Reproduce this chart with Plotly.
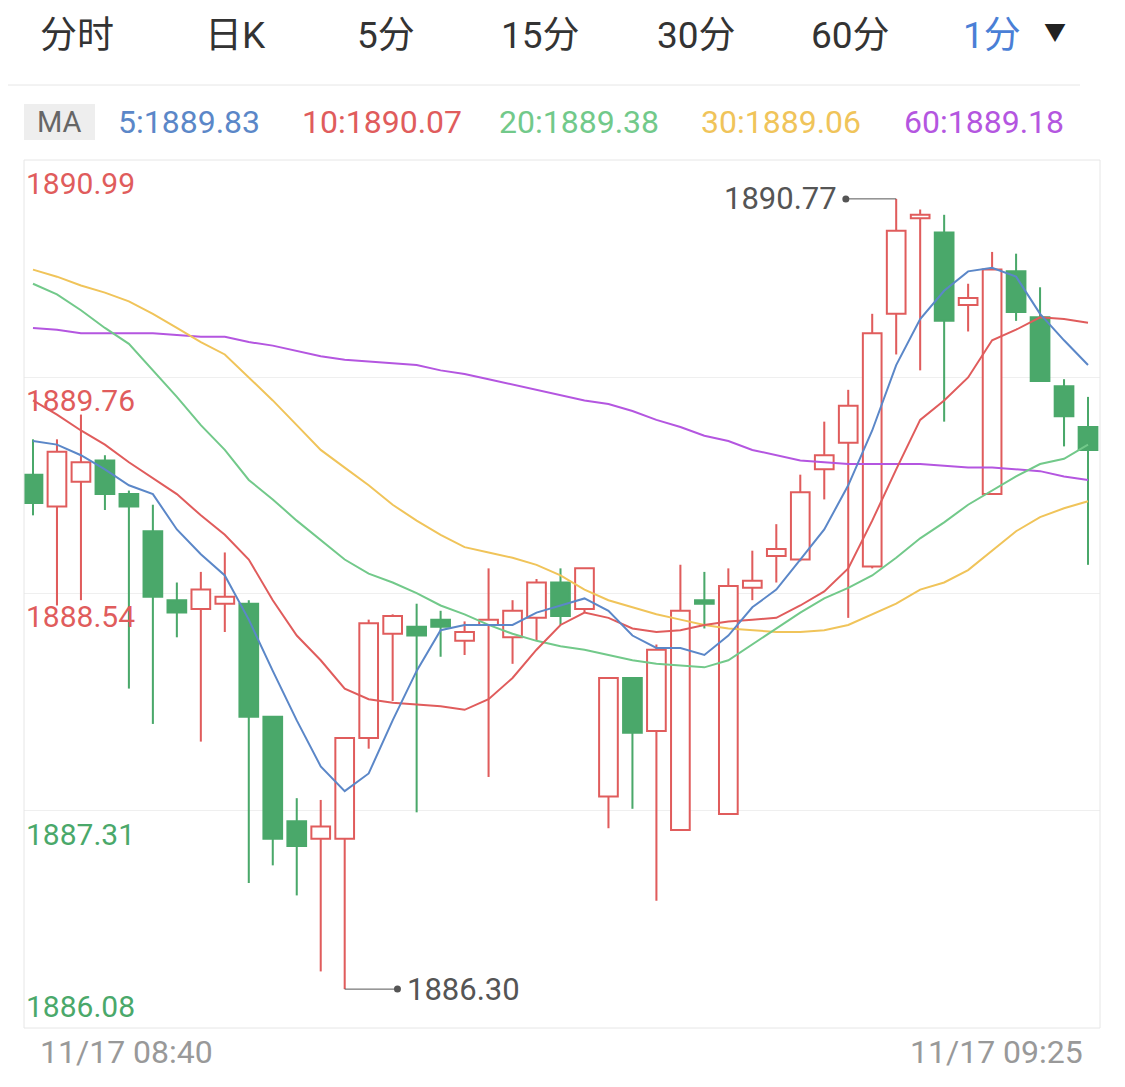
import plotly.graph_objects as go

opens  = [1889.21,1889.03,1889.17,1889.29,1889.10,1888.89,1888.50,1888.45,1888.48,1888.48,1887.84,1887.25,1887.15,1887.15,1887.72,1888.31,1888.35,1888.39,1888.27,1888.36,1888.29,1888.40,1888.60,1888.45,1887.39,1888.06,1887.76,1887.20,1888.50,1887.29,1888.57,1888.75,1888.73,1889.24,1889.39,1888.69,1890.12,1890.66,1890.58,1890.17,1889.10,1890.36,1890.10,1889.71,1889.48]
highs  = [1889.41,1889.41,1889.55,1889.32,1889.12,1889.04,1888.60,1888.66,1888.77,1888.50,1887.84,1887.38,1887.37,1887.72,1888.39,1888.42,1888.48,1888.44,1888.38,1888.68,1888.50,1888.62,1888.68,1888.68,1888.06,1888.06,1888.25,1888.70,1888.66,1888.68,1888.78,1888.93,1889.21,1889.51,1889.69,1890.12,1890.77,1890.71,1890.68,1890.29,1890.47,1890.46,1890.27,1889.75,1889.65]
lows   = [1888.98,1888.47,1888.50,1889.01,1888.00,1887.80,1888.29,1887.70,1888.32,1886.90,1887.00,1886.83,1886.40,1886.30,1887.66,1887.93,1887.30,1888.18,1888.19,1887.50,1888.14,1888.27,1888.36,1888.43,1887.21,1887.32,1886.80,1887.20,1888.34,1887.29,1888.50,1888.60,1888.72,1889.07,1888.40,1888.68,1889.89,1889.80,1889.51,1890.02,1889.10,1890.08,1889.74,1889.37,1888.70]
closes = [1889.05,1889.34,1889.28,1889.10,1889.03,1888.52,1888.43,1888.56,1888.52,1887.84,1887.15,1887.11,1887.22,1887.72,1888.37,1888.41,1888.30,1888.35,1888.32,1888.39,1888.44,1888.60,1888.41,1888.68,1888.06,1887.75,1888.22,1888.44,1888.48,1888.58,1888.61,1888.79,1889.11,1889.32,1889.60,1890.01,1890.59,1890.68,1890.08,1890.21,1890.37,1890.13,1889.74,1889.54,1889.35]

ma5  = [1889.40,1889.38,1889.32,1889.24,1889.15,1889.10,1888.90,1888.76,1888.64,1888.39,1888.10,1887.82,1887.56,1887.42,1887.52,1887.82,1888.10,1888.33,1888.36,1888.36,1888.36,1888.43,1888.47,1888.51,1888.44,1888.30,1888.23,1888.23,1888.19,1888.30,1888.46,1888.56,1888.73,1888.90,1889.15,1889.46,1889.83,1890.09,1890.25,1890.36,1890.38,1890.33,1890.12,1889.97,1889.83]
ma10 = [1889.63,1889.55,1889.46,1889.38,1889.28,1889.19,1889.10,1888.98,1888.87,1888.73,1888.50,1888.30,1888.16,1888.00,1887.94,1887.92,1887.91,1887.90,1887.88,1887.94,1888.06,1888.22,1888.36,1888.43,1888.40,1888.34,1888.32,1888.33,1888.36,1888.38,1888.39,1888.40,1888.47,1888.55,1888.68,1888.95,1889.24,1889.52,1889.63,1889.76,1889.97,1890.03,1890.10,1890.09,1890.07]
ma20 = [1890.29,1890.23,1890.14,1890.04,1889.95,1889.80,1889.65,1889.49,1889.35,1889.18,1889.07,1888.95,1888.84,1888.73,1888.65,1888.60,1888.54,1888.47,1888.42,1888.36,1888.31,1888.27,1888.24,1888.22,1888.19,1888.16,1888.14,1888.13,1888.12,1888.16,1888.25,1888.34,1888.43,1888.51,1888.57,1888.64,1888.74,1888.85,1888.94,1889.04,1889.12,1889.20,1889.27,1889.30,1889.38]
ma30 = [1890.37,1890.33,1890.28,1890.24,1890.19,1890.12,1890.04,1889.96,1889.89,1889.76,1889.63,1889.49,1889.35,1889.25,1889.15,1889.04,1888.95,1888.87,1888.80,1888.77,1888.74,1888.70,1888.64,1888.56,1888.50,1888.46,1888.42,1888.39,1888.36,1888.34,1888.33,1888.32,1888.32,1888.33,1888.36,1888.42,1888.48,1888.56,1888.60,1888.67,1888.78,1888.89,1888.97,1889.02,1889.06]
ma60 = [1890.04,1890.03,1890.01,1890.01,1890.01,1890.01,1890.00,1889.99,1889.99,1889.96,1889.94,1889.91,1889.88,1889.86,1889.85,1889.84,1889.83,1889.80,1889.78,1889.75,1889.72,1889.69,1889.66,1889.63,1889.61,1889.57,1889.52,1889.48,1889.43,1889.40,1889.35,1889.32,1889.29,1889.28,1889.27,1889.27,1889.27,1889.27,1889.26,1889.25,1889.25,1889.24,1889.23,1889.20,1889.18]

ytick_vals = [1890.99, 1889.76, 1888.54, 1887.31, 1886.08]
tabs = ["分时", "日K", "5分", "15分", "30分", "60分", "1分"]
x_labels = ["11/17 08:40", "11/17 09:25"]

RED = "#e05c5c"; GREEN = "#4aa86a"
MA_COL = {"5": "#5b87c8", "10": "#e05c5c", "20": "#72c98a", "30": "#f0c45a", "60": "#b456e0"}
FONT = "Roboto, Noto Sans CJK SC, sans-serif"

OFF = 8  # page body margin
W, H = 1125, 1087
L, T = 24 - OFF, 160 - OFF
R = W - (1100 - OFF)
B = H - (1028 - OFF)
PW, PH = W - L - R, H - T - B
def px(xp): return (xp - OFF - L) / PW
def py(yp): return (H - B - (yp - OFF)) / PH

n = len(opens)
xs = list(range(n))
up = [c >= o for o, c in zip(opens, closes)]
cols = [RED if u else GREEN for u in up]

fig = go.Figure()
fig.add_trace(go.Bar(x=xs, base=lows, y=[h - l for h, l in zip(highs, lows)], width=0.085,
                     marker=dict(color=cols, line=dict(width=0)), hoverinfo="skip"))
bodies = [max(abs(c - o), 0.012) for o, c in zip(opens, closes)]
fig.add_trace(go.Bar(x=xs, base=[min(o, c) for o, c in zip(opens, closes)], y=bodies, width=0.78,
                     marker=dict(color=["white" if u else GREEN for u in up],
                                 line=dict(color=cols, width=2)), hoverinfo="skip"))
for k, arr in [("60", ma60), ("30", ma30), ("20", ma20), ("10", ma10), ("5", ma5)]:
    fig.add_trace(go.Scatter(x=xs, y=arr, mode="lines", line=dict(color=MA_COL[k], width=2)))

ann = []
for i, v in enumerate(ytick_vals):
    col = RED if v > 1888 else GREEN
    ann.append(dict(x=0, xref="paper", y=v, yref="y", text=f"{v:.2f}", showarrow=False,
                    xanchor="left", yanchor="bottom" if i == 4 else "top", yshift=2 if i == 4 else -4,
                    font=dict(size=30, color=col)))
hi_i = max(range(n), key=lambda i: highs[i]); lo_i = min(range(n), key=lambda i: lows[i])
fig.add_trace(go.Scatter(x=[hi_i - 2.1, hi_i], y=[highs[hi_i]] * 2, mode="lines", line=dict(color="#555", width=1)))
fig.add_trace(go.Scatter(x=[hi_i - 2.1], y=[highs[hi_i]], mode="markers", marker=dict(color="#555", size=7)))
fig.add_trace(go.Scatter(x=[lo_i, lo_i + 2.2], y=[lows[lo_i]] * 2, mode="lines", line=dict(color="#555", width=1)))
fig.add_trace(go.Scatter(x=[lo_i + 2.2], y=[lows[lo_i]], mode="markers", marker=dict(color="#555", size=7)))
ann.append(dict(x=hi_i - 2.4, y=highs[hi_i], text=f"{highs[hi_i]:.2f}", showarrow=False, xanchor="right",
                font=dict(size=31, color="#555")))
ann.append(dict(x=lo_i + 2.5, y=lows[lo_i], text=f"{lows[lo_i]:.2f}", showarrow=False, xanchor="left",
                font=dict(size=31, color="#555")))
ann.append(dict(x=px(38), xref="paper", y=py(1052), yref="paper", text=x_labels[0], showarrow=False,
                xanchor="left", yanchor="middle", font=dict(size=32, color="#999")))
ann.append(dict(x=px(1085), xref="paper", y=py(1052), yref="paper", text=x_labels[1], showarrow=False,
                xanchor="right", yanchor="middle", font=dict(size=32, color="#999")))
tab_x = [77, 235, 386, 540, 696, 850, 992]
for t, tx in zip(tabs, tab_x):
    ann.append(dict(x=px(tx), xref="paper", y=py(35), yref="paper", text=t, showarrow=False,
                    xanchor="center", yanchor="middle",
                    font=dict(size=37, color="#4a7fd6" if t == "1分" else "#333")))
ann.append(dict(x=px(1055), xref="paper", y=py(33), yref="paper", text="▼", xanchor="center",
                yanchor="middle", showarrow=False, font=dict(size=22, color="#222")))
ann.append(dict(x=px(59), xref="paper", y=py(122), yref="paper", text="MA", xanchor="center",
                yanchor="middle", showarrow=False, font=dict(size=29, color="#666")))
leg = [("5", ma5, 116), ("10", ma10, 300), ("20", ma20, 497), ("30", ma30, 699), ("60", ma60, 902)]
for k, arr, lx in leg:
    ann.append(dict(x=px(lx), xref="paper", y=py(122), yref="paper",
                    text=f"{k}:{arr[-1]:.2f}", showarrow=False, xanchor="left", yanchor="middle",
                    font=dict(size=32, color=MA_COL[k])))

shapes = [
    dict(type="rect", xref="paper", yref="paper", x0=0, x1=1, y0=0, y1=1, line=dict(color="#e6e6e6", width=1)),
    dict(type="line", xref="paper", yref="paper", x0=px(0), x1=px(1080), y0=py(85), y1=py(85),
         line=dict(color="#e6e6e6", width=1)),
    dict(type="rect", xref="paper", yref="paper", x0=px(24), x1=px(95), y0=py(140), y1=py(104),
         fillcolor="#eeeeee", line=dict(width=0), layer="below"),
]

fig.update_layout(
    width=W, height=H, margin=dict(l=L, r=R, t=T, b=B, autoexpand=False),
    paper_bgcolor="white", plot_bgcolor="white", showlegend=False, barmode="overlay",
    font=dict(family=FONT),
    xaxis=dict(range=[-0.375, 44.5], showgrid=False, showticklabels=False, zeroline=False, fixedrange=True),
    yaxis=dict(range=[1886.08, 1890.99], tickvals=ytick_vals[1:4], showticklabels=False,
               gridcolor="#efefef", zeroline=False),
    annotations=ann, shapes=shapes,
)
fig.write_html("out.html")
